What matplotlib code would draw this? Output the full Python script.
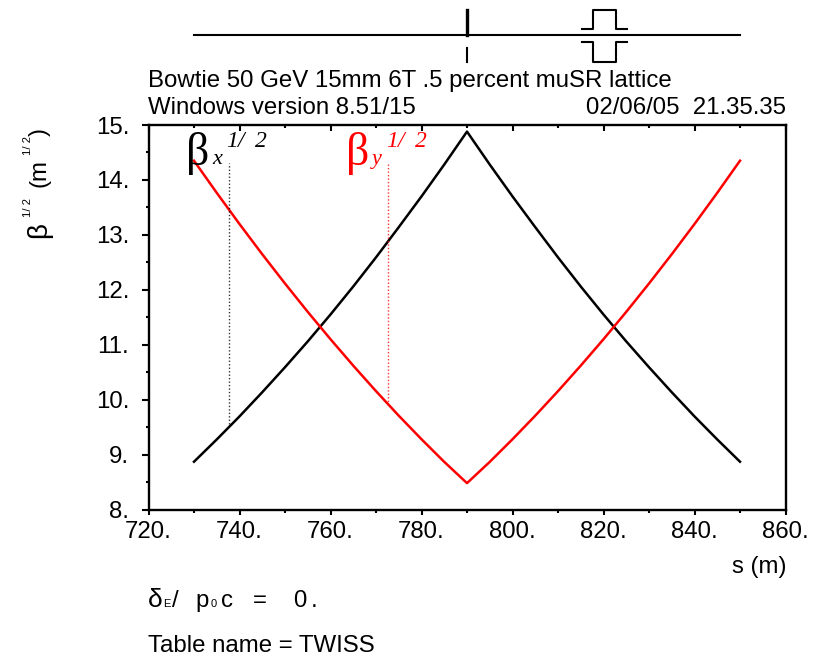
import numpy as np
import matplotlib
matplotlib.use("Agg")
import matplotlib.pyplot as plt
from matplotlib.markers import TICKDOWN
from matplotlib.transforms import blended_transform_factory

s_vals = [730, 735, 740, 745, 750, 755, 760, 765, 770, 775, 780, 785, 790,
          795, 800, 805, 810, 815, 820, 825, 830, 835, 840, 845, 850]
beta_x = [8.87, 9.275, 9.695, 10.135, 10.59, 11.06, 11.55, 12.06, 12.59, 13.14, 13.7, 14.28, 14.88,
          14.28, 13.7, 13.14, 12.59, 12.06, 11.55, 11.06, 10.59, 10.135, 9.695, 9.275, 8.87]
beta_y = [14.35, 13.765, 13.197, 12.647, 12.114, 11.598, 11.1, 10.619, 10.155, 9.708, 9.279, 8.867, 8.48,
          8.867, 9.279, 9.708, 10.155, 10.619, 11.1, 11.598, 12.114, 12.647, 13.197, 13.765, 14.35]

x_ticks = [720, 740, 760, 780, 800, 820, 840, 860]
y_ticks = [8, 9, 10, 11, 12, 13, 14, 15]
marker_x = [737.7, 9.55, 14.31]
marker_y = [772.7, 9.9, 14.31]
lattice_s = [730, 850]
thin_s = 790
box_s = [815.3, 817.7, 822.7, 825.2]

W, H = 815, 657
FS = 17.3
plt.rcParams["font.family"] = ["Liberation Sans", "DejaVu Sans"]
fig = plt.figure(figsize=(W / 100, H / 100), dpi=100)
L, R, T, B = 148.5, 785.5, 125, 509.5
ax = fig.add_axes([L / W, 1 - B / H, (R - L) / W, (B - T) / H])

ax.plot(s_vals, beta_x, color="black", lw=1.8)
ax.plot(s_vals, beta_y, color="red", lw=1.8)
ax.plot([marker_x[0]] * 2, marker_x[1:], color="black", lw=1, ls=(0, (1, 1.5)), alpha=0.8)
ax.plot([marker_y[0]] * 2, marker_y[1:], color="red", lw=1, ls=(0, (1, 1.5)), alpha=0.8)

ax.set_xlim(720, 860)
ax.set_ylim(8, 15)
minor_x = np.arange(730, 860, 20)
ax.set_xticks(x_ticks)
ax.set_xticklabels([f"{t}." for t in x_ticks])
ax.set_yticks(y_ticks)
ax.set_yticklabels([f"{t}." for t in y_ticks])
ax.set_xticks(minor_x, minor=True)
ax.set_yticks(np.arange(8.5, 15, 1), minor=True)
ax.tick_params(axis="x", which="major", length=3.6, width=1.5, labelsize=FS, pad=5)
ax.tick_params(axis="x", which="minor", length=2, width=1.5)
ax.tick_params(axis="y", which="major", length=5, width=1.5, labelsize=FS, pad=9)
ax.tick_params(axis="y", which="minor", length=2.2, width=1.5)
for sp in ax.spines.values():
    sp.set_linewidth(1.7)

# top edge has short inward ticks, no labels
ax.plot(x_ticks, [15] * len(x_ticks), ls="", marker=TICKDOWN, ms=4, mew=1.5, color="black", clip_on=False)
ax.plot(minor_x, [15] * len(minor_x), ls="", marker=TICKDOWN, ms=2.2, mew=1.5, color="black", clip_on=False)


def px(x, y, txt, **kw):
    kw.setdefault("va", "baseline")
    kw.setdefault("fontsize", FS)
    fig.text(x / W, 1 - y / H, txt, **kw)


def yp(y):
    return 1 - y / H


# lattice strip above the plot
tr = blended_transform_factory(ax.transData, fig.transFigure)
ax.plot(lattice_s, [yp(35)] * 2, color="black", lw=1.5, transform=tr, clip_on=False)
ax.plot([thin_s] * 2, [yp(10), yp(35)], color="black", lw=2.4, transform=tr, clip_on=False)
ax.plot([thin_s] * 2, [yp(48), yp(62)], color="black", lw=1.5, transform=tr, clip_on=False)
top = [yp(29), yp(29), yp(10), yp(10), yp(29), yp(29)]
bot = [yp(42), yp(42), yp(62), yp(62), yp(42), yp(42)]
xs = [box_s[0], box_s[1], box_s[1], box_s[2], box_s[2], box_s[3]]
ax.plot(xs, top, color="black", lw=1.5, transform=tr, clip_on=False)
ax.plot(xs, bot, color="black", lw=1.5, transform=tr, clip_on=False)

px(148, 87, "Bowtie 50 GeV 15mm 6T .5 percent muSR lattice")
px(148, 114.5, "Windows version 8.51/15")
px(786, 114.5, "02/06/05  21.35.35", ha="right")

# curve labels
serif = "Liberation Serif"
for dx, color, sub in [(0, "black", "x"), (160, "red", "y")]:
    px(186 + dx, 165, "\u03b2", fontsize=33, family=serif, color=color)
    px(212 + dx, 164, sub, fontsize=16, family=serif, style="italic", color=color)
    px(226 + dx, 147, "1", fontsize=17, family=serif, style="italic", color=color)
    px(237 + dx, 147, "/", fontsize=17, family=serif, style="italic", color=color)
    px(255 + dx, 147, "2", fontsize=17, family=serif, style="italic", color=color)

# y axis label
rot = dict(rotation=90, ha="left", rotation_mode="anchor")
px(46, 238, "\u03b2", fontsize=20, **rot)
px(31, 217, "1/ 2", fontsize=8.2, **rot)
px(46, 187, "(m", **rot)
px(31, 155, "1/ 2", fontsize=8.2, **rot)
px(46, 136, ")", **rot)

px(786, 573, "s (m)", ha="right")
px(148, 607, "\u03b4", fontsize=19)
px(163, 607, "E", fontsize=8)
px(172, 607, "/")
px(195, 607, "p")
px(211, 607, "0", fontsize=8)
px(221, 607, "c")
px(253, 607, "=")
px(293, 607, "0")
px(311, 607, ".")
px(148, 652, "Table name = TWISS")

fig.savefig("out.png", dpi=100)
